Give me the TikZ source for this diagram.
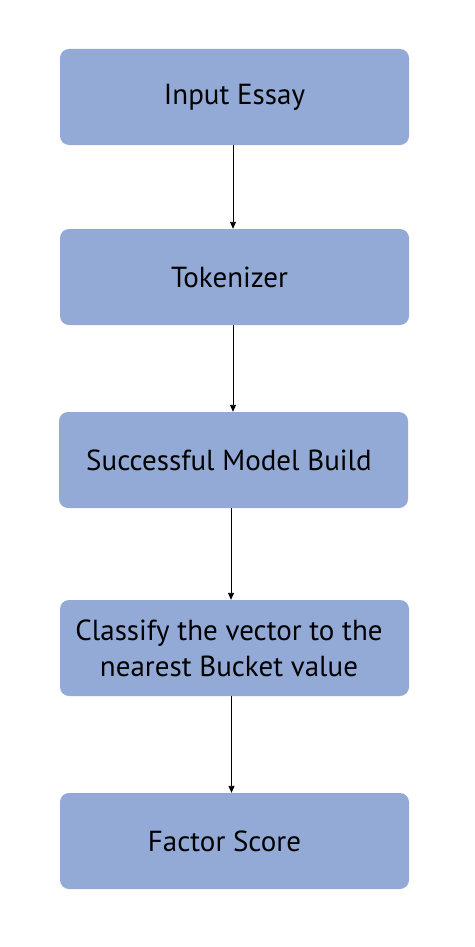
\documentclass[tikz,border=0pt]{standalone}
\usepackage{fontspec}
\setmainfont{PT Sans}
\usetikzlibrary{arrows.meta}
\newlength{\du}
\setlength{\du}{1pt}
\definecolor{boxcolor}{rgb}{0.576, 0.667, 0.839}
\tikzset{
  stepbox/.style={fill=boxcolor, draw=none, rounded corners=9pt,
    minimum width=349pt, minimum height=96pt, inner sep=0pt,
    align=center, font=\fontsize{29}{36}\selectfont},
  flow/.style={draw=black, line width=0.9pt, -{Triangle[length=7pt,width=6pt]}}
}
\begin{document}
\begin{tikzpicture}[x=1pt, y=-1pt]
\useasboundingbox (0,0) rectangle (474,947);
% boxes
\node[stepbox] (essay) at (234.5,97) {Input Essay};
\node[stepbox] (token) at (234.5,277) {Tokenizer\hspace*{10pt}};
\node[stepbox] (model) at (233.5,460) {Successful Model Build\hspace*{9pt}};
\node[stepbox] (classify) at (234.5,648) {Classify the vector to the\hspace*{11pt}\\nearest Bucket value\hspace*{11pt}};
\node[stepbox] (score) at (234.5,841) {Factor Score\hspace*{20pt}};
% arrows
\draw[flow] ([xshift=-1.5pt]essay.south) -- ([xshift=-1.5pt]token.north);
\draw[flow] ([xshift=-1.5pt]token.south) -- ([xshift=-0.5pt]model.north);
\draw[flow] ([xshift=-2.5pt]model.south) -- ([xshift=-3.5pt]classify.north);
\draw[flow] ([xshift=-3pt]classify.south) -- ([xshift=-3pt]score.north);
\end{tikzpicture}
\end{document}
